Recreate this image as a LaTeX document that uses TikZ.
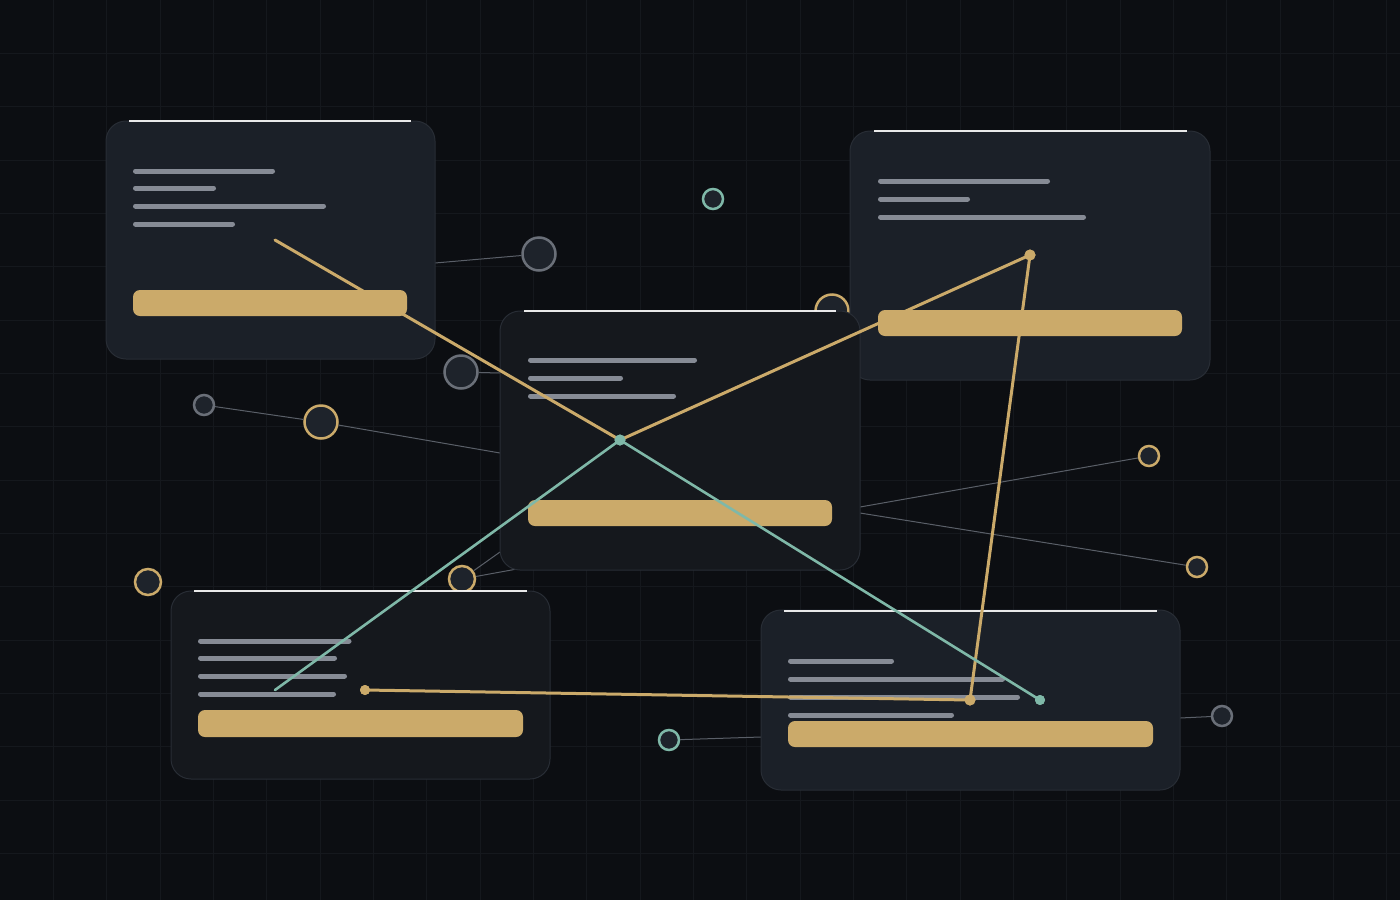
\documentclass[tikz,border=0pt]{standalone}
\definecolor{bg}{HTML}{0C0E12}
\definecolor{gridc}{HTML}{15181D}
\definecolor{cardlight}{HTML}{1B2028}
\definecolor{carddark}{HTML}{15181D}
\definecolor{cardedge}{HTML}{282D35}
\definecolor{gold}{HTML}{CBAA6A}
\definecolor{tealc}{HTML}{7FB8A8}
\definecolor{txtgray}{HTML}{868B95}
\definecolor{wirec}{HTML}{5A5F68}
\definecolor{ringgray}{HTML}{6A6F78}
\definecolor{ringfill}{HTML}{1E232B}
\tikzset{
  cardbox/.style={draw=cardedge, line width=1pt, rounded corners=20pt, inner sep=0pt, rectangle},
  cardL/.style={cardbox, fill=cardlight},
  cardD/.style={cardbox, fill=carddark},
  hilite/.style={draw=white, line width=1.3pt, opacity=0.9},
  txtline/.style={draw=txtgray, line width=5pt, line cap=round},
  goldbar/.style={fill=gold, rounded corners=7pt},
  wire/.style={draw=wirec, line width=1pt},
  ring/.style={circle, draw, line width=2.5pt, fill=ringfill, inner sep=0pt},
  ringG/.style={ring, draw=ringgray},
  ringY/.style={ring, draw=gold},
  ringT/.style={ring, draw=tealc},
  goldlink/.style={draw=gold, line width=3pt, line cap=round, line join=round},
  teallink/.style={draw=tealc, line width=2.6pt, line cap=round, line join=round},
  dotY/.style={circle, fill=gold, inner sep=0pt, minimum size=11pt},
  dotT/.style={circle, fill=tealc, inner sep=0pt, minimum size=11pt}
}
\begin{document}
\begin{tikzpicture}[x=1pt,y=-1pt]
\fill[bg] (0,0) rectangle (1400,900);
\useasboundingbox (0,0) rectangle (1400,900);
% grid
\foreach \i in {1,...,26} { \draw[gridc, line width=1pt] (\i*53.333,0) -- (\i*53.333,900); }
\foreach \j in {1,...,16} { \draw[gridc, line width=1pt] (0,\j*53.333) -- (1400,\j*53.333); }

% rings
\node[ringG, minimum size=33pt] (R1) at (539,254) {};
\node[ringG, minimum size=33pt] (R2) at (461,372) {};
\node[ringG, minimum size=20pt] (R3) at (204,405) {};
\node[ringY, minimum size=33pt] (R4) at (321,422) {};
\node[ringY, minimum size=26pt] (R5) at (462,579) {};
\node[ringY, minimum size=20pt] (R6) at (1149,456) {};
\node[ringY, minimum size=20pt] (R7) at (1197,567) {};
\node[ringT, minimum size=20pt] (R8) at (669,740) {};
\node[ringG, minimum size=20pt] (R9) at (1222,716) {};
\node[ringT, minimum size=20pt] (R10) at (713,199) {};
\node[ringY, minimum size=26pt] (R11) at (148,582) {};
\node[ringY, minimum size=33pt] (R12) at (832,311) {};

% wire anchor points on card edges
\coordinate (wA) at (435,263);
\coordinate (wB1) at (500,373);
\coordinate (wB2) at (500,453);
\coordinate (wB3) at (500,552);
\coordinate (wB4) at (517,569);
\coordinate (wB5) at (860,507);
\coordinate (wB6) at (860,513);
\coordinate (wE1) at (761,737);
\coordinate (wE2) at (1180,718);

\draw[wire] (wA) -- (R1);
\draw[wire] (R2) -- (wB1);
\draw[wire] (R3) -- (R4);
\draw[wire] (R4) -- (wB2);
\draw[wire] (R5) -- (wB3);
\draw[wire] (R5) -- (wB4);
\draw[wire] (wB5) -- (R6);
\draw[wire] (wB6) -- (R7);
\draw[wire] (R8) -- (wE1);
\draw[wire] (wE2) -- (R9);

% card A
\node[cardL, minimum width=329pt, minimum height=238pt] (cardA) at (270.5,240) {};
\draw[hilite] (129,121) -- (411,121);
\draw[txtline] (135.5,171) -- (272.5,171);
\draw[txtline] (135.5,188) -- (213.5,188);
\draw[txtline] (135.5,206) -- (323.5,206);
\draw[txtline] (135.5,224) -- (232.5,224);
\fill[goldbar] (133,290) rectangle (407,316);

% card C
\node[cardL, minimum width=360pt, minimum height=249pt] (cardC) at (1030,255.5) {};
\draw[hilite] (874,131) -- (1187,131);
\draw[txtline] (880.5,181) -- (1047.5,181);
\draw[txtline] (880.5,199) -- (967.5,199);
\draw[txtline] (880.5,217) -- (1083.5,217);
\fill[goldbar] (878,310) rectangle (1182,336);

% card B (centre)
\node[cardD, minimum width=360pt, minimum height=259pt] (cardB) at (680,440.5) {};
\draw[hilite] (524,311) -- (836,311);
\draw[txtline] (530.5,360) -- (694.5,360);
\draw[txtline] (530.5,378) -- (620.5,378);
\draw[txtline] (530.5,396) -- (673.5,396);
\fill[goldbar] (528,500) rectangle (832,526);

% card D
\node[cardD, minimum width=379pt, minimum height=188pt] (cardD) at (360.5,685) {};
\draw[hilite] (194,591) -- (527,591);
\draw[txtline] (200.5,641) -- (349,641);
\draw[txtline] (200.5,658) -- (334.5,658);
\draw[txtline] (200.5,676) -- (344.5,676);
\draw[txtline] (200.5,694) -- (333.5,694);
\fill[goldbar] (198,710) rectangle (523,737);

% card E
\node[cardL, minimum width=419pt, minimum height=180pt] (cardE) at (970.5,700) {};
\draw[hilite] (784,611) -- (1157,611);
\draw[txtline] (790.5,661) -- (891.5,661);
\draw[txtline] (790.5,679) -- (1002.5,679);
\draw[txtline] (790.5,697) -- (1017.5,697);
\draw[txtline] (790.5,715) -- (951.5,715);
\fill[goldbar] (788,721) rectangle (1153,747);

% connectors
\coordinate (pA) at (275,240);
\coordinate (pD) at (275,690);
\node[dotT] (hub) at (620,440) {};
\node[dotY] (dC) at (1030,255) {};
\node[dotY] (dE) at (970,700) {};
\node[dotY, minimum size=10pt] (dD) at (365,690) {};
\node[dotT, minimum size=10pt] (dT) at (1040,700) {};

\draw[goldlink] (pA) -- (hub.center) -- (dC.center) -- (dE.center) -- (dD.center);
\draw[teallink] (pD) -- (hub.center) -- (dT.center);

\node[dotT] at (hub.center) {};
\node[dotY] at (dC.center) {};
\node[dotY] at (dE.center) {};
\node[dotY, minimum size=10pt] at (dD.center) {};
\node[dotT, minimum size=10pt] at (dT.center) {};
\end{tikzpicture}
\end{document}
